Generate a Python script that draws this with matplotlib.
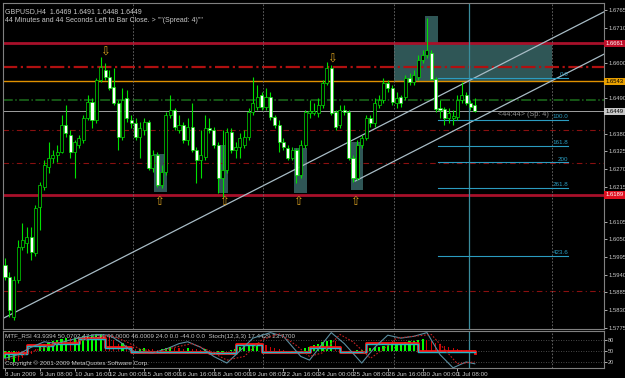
import matplotlib
matplotlib.use("Agg")
import matplotlib.pyplot as plt
import matplotlib.transforms as mtransforms
from matplotlib.patches import Rectangle
import numpy as np

plt.rcParams['font.family'] = ['Liberation Sans Narrow', 'Liberation Sans', 'DejaVu Sans']

# ---- GBPUSD H4 candles ----
opens = [1.5970, 1.5933, 1.5809, 1.5924, 1.6027, 1.6039, 1.6058, 1.6008, 1.6151, 1.6213,
         1.6276, 1.6304, 1.6313, 1.6323, 1.6407, 1.6376, 1.6323, 1.6344, 1.6360, 1.6429,
         1.6478, 1.6422, 1.6547, 1.6578, 1.6556, 1.6525, 1.6475, 1.6369, 1.6491, 1.6422,
         1.6413, 1.6369, 1.6391, 1.6416, 1.6273, 1.6313, 1.6220, 1.6260, 1.6438, 1.6453,
         1.6391, 1.6407, 1.6360, 1.6400, 1.6329, 1.6298, 1.6307, 1.6397, 1.6391, 1.6344,
         1.6242, 1.6266, 1.6385, 1.6329, 1.6338, 1.6344, 1.6369, 1.6447, 1.6463, 1.6500,
         1.6463, 1.6494, 1.6432, 1.6407, 1.6354, 1.6335, 1.6304, 1.6329, 1.6251, 1.6344,
         1.6444, 1.6444, 1.6444, 1.6469, 1.6538, 1.6584, 1.6447, 1.6407, 1.6453, 1.6447,
         1.6304, 1.6242, 1.6344, 1.6366, 1.6429, 1.6413, 1.6469, 1.6485, 1.6538, 1.6522,
         1.6475, 1.6494, 1.6494, 1.6553, 1.6541, 1.6556, 1.6609, 1.6625, 1.6631, 1.6550,
         1.6460, 1.6457, 1.6429, 1.6429, 1.6432, 1.6485, 1.6500, 1.6475, 1.6469]
highs = [1.5992, 1.5949, 1.5936, 1.6048, 1.6101, 1.6089, 1.6089, 1.6157, 1.6229, 1.6298,
         1.6354, 1.6329, 1.6344, 1.6438, 1.6469, 1.6391, 1.6360, 1.6376, 1.6438, 1.6500,
         1.6491, 1.6553, 1.6619, 1.6600, 1.6578, 1.6584, 1.6485, 1.6522, 1.6516, 1.6438,
         1.6429, 1.6416, 1.6429, 1.6422, 1.6329, 1.6323, 1.6282, 1.6447, 1.6500, 1.6460,
         1.6438, 1.6416, 1.6429, 1.6475, 1.6338, 1.6391, 1.6438, 1.6429, 1.6400, 1.6354,
         1.6391, 1.6397, 1.6397, 1.6354, 1.6382, 1.6391, 1.6460, 1.6556, 1.6531, 1.6509,
         1.6522, 1.6509, 1.6438, 1.6422, 1.6366, 1.6344, 1.6338, 1.6335, 1.6360, 1.6453,
         1.6485, 1.6475, 1.6491, 1.6547, 1.6603, 1.6594, 1.6453, 1.6469, 1.6469, 1.6453,
         1.6313, 1.6360, 1.6376, 1.6438, 1.6438, 1.6491, 1.6500, 1.6553, 1.6547, 1.6531,
         1.6509, 1.6500, 1.6562, 1.6569, 1.6578, 1.6625, 1.6640, 1.6740, 1.6640, 1.6556,
         1.6485, 1.6463, 1.6460, 1.6453, 1.6500, 1.6541, 1.6509, 1.6485, 1.6491]
lows = [1.5924, 1.5809, 1.5799, 1.5914, 1.6017, 1.6008, 1.5986, 1.5998, 1.6080, 1.6204,
        1.6257, 1.6288, 1.6291, 1.6319, 1.6369, 1.6304, 1.6242, 1.6335, 1.6351, 1.6422,
        1.6397, 1.6413, 1.6541, 1.6547, 1.6516, 1.6469, 1.6329, 1.6360, 1.6416, 1.6397,
        1.6360, 1.6304, 1.6376, 1.6266, 1.6260, 1.6213, 1.6210, 1.6251, 1.6429, 1.6391,
        1.6382, 1.6351, 1.6344, 1.6323, 1.6226, 1.6242, 1.6298, 1.6382, 1.6335, 1.6195,
        1.6182, 1.6257, 1.6319, 1.6304, 1.6304, 1.6335, 1.6360, 1.6438, 1.6453, 1.6453,
        1.6453, 1.6422, 1.6397, 1.6323, 1.6329, 1.6298, 1.6298, 1.6226, 1.6242, 1.6335,
        1.6429, 1.6438, 1.6432, 1.6460, 1.6531, 1.6438, 1.6391, 1.6397, 1.6438, 1.6298,
        1.6229, 1.6235, 1.6335, 1.6360, 1.6400, 1.6400, 1.6460, 1.6475, 1.6509, 1.6469,
        1.6460, 1.6463, 1.6485, 1.6531, 1.6531, 1.6547, 1.6600, 1.6615, 1.6547, 1.6447,
        1.6429, 1.6407, 1.6413, 1.6407, 1.6422, 1.6475, 1.6469, 1.6453, 1.6448]
closes = [1.5933, 1.5830, 1.5924, 1.6027, 1.6048, 1.6058, 1.6011, 1.6148, 1.6220, 1.6282,
          1.6304, 1.6313, 1.6323, 1.6407, 1.6382, 1.6323, 1.6354, 1.6366, 1.6429, 1.6478,
          1.6422, 1.6547, 1.6587, 1.6556, 1.6522, 1.6475, 1.6369, 1.6485, 1.6429, 1.6413,
          1.6369, 1.6397, 1.6416, 1.6273, 1.6313, 1.6220, 1.6260, 1.6438, 1.6453, 1.6400,
          1.6407, 1.6360, 1.6400, 1.6329, 1.6298, 1.6313, 1.6397, 1.6391, 1.6344, 1.6242,
          1.6266, 1.6385, 1.6329, 1.6338, 1.6366, 1.6369, 1.6447, 1.6475, 1.6494, 1.6463,
          1.6494, 1.6432, 1.6407, 1.6354, 1.6338, 1.6304, 1.6329, 1.6251, 1.6344, 1.6447,
          1.6450, 1.6450, 1.6469, 1.6538, 1.6584, 1.6444, 1.6400, 1.6453, 1.6447, 1.6304,
          1.6242, 1.6344, 1.6366, 1.6429, 1.6413, 1.6475, 1.6485, 1.6538, 1.6522, 1.6478,
          1.6491, 1.6475, 1.6553, 1.6541, 1.6562, 1.6609, 1.6625, 1.6640, 1.6550, 1.6457,
          1.6453, 1.6429, 1.6444, 1.6435, 1.6485, 1.6500, 1.6475, 1.6463, 1.6449]

time_pos = [0, 8, 16, 24, 32, 40, 48, 56, 64, 72, 80, 88, 96, 104]
time_labels = ['8 Jun 2009', '9 Jun 08:00', '10 Jun 16:00', '12 Jun 00:00', '15 Jun 08:00',
               '16 Jun 16:00', '18 Jun 00:00', '19 Jun 08:00', '22 Jun 16:00', '24 Jun 00:00',
               '25 Jun 08:00', '26 Jun 16:00', '30 Jun 00:00', '1 Jul 08:00']
# 1.6655 and 1.6545 sit under the coloured tags
price_ticks = [1.6765, 1.6710, 1.6600, 1.6490, 1.6380, 1.6325, 1.6270,
               1.6215, 1.6105, 1.6050, 1.5995, 1.5940, 1.5885, 1.5830, 1.5775]

# horizontal levels: price, colour, style, width
hlines = [(1.6661, '#a8102a', '-', 2.0), (1.6588, '#b01010', '-.', 1.6),
          (1.6543, '#e09000', '-', 1.0), (1.6486, '#1c6e1c', '-.', 1.1),
          (1.6391, '#8a1010', (0, (5, 3, 1, 3)), 0.8), (1.6288, '#8a1010', (0, (5, 3, 1, 3)), 0.8),
          (1.6189, '#a8102a', '-', 2.0), (1.5889, '#8a1010', (0, (5, 3, 1, 3)), 0.8)]
bid = 1.6449
price_tags = [(1.6661, '#c0102a', 'white'), (1.6543, '#e8a000', 'black'),
              (bid, '#c8c8c8', 'black'), (1.6189, '#e01020', 'white')]

# rectangles: idx0, idx1, price lo, price hi
boxes = [(34.3, 37.2, 1.6198, 1.6316), (49.2, 51.3, 1.6195, 1.6344),
         (66.4, 69.4, 1.6195, 1.6335), (79.5, 82.3, 1.6204, 1.6354),
         (89.4, 125.7, 1.6541, 1.6662), (96.6, 99.5, 1.6541, 1.6746)]
arrows_down = [(23.0, 1.6634), (75.2, 1.6612)]
arrows_up = [(35.4, 1.6167), (50.3, 1.6167), (67.4, 1.6167), (80.5, 1.6167)]
separators = [29.4, 59.3, 89.4, 125.7]
now_line = 106.7

# trend channel anchors
trend_a = (2, 1.5821)
trend_b = (97, 1.6478)
channel_start = (80.5, 1.6232)

# fibo expansion
fib_p0 = 1.6553
fib_p100 = 1.6422
fib_x = (99.5, 129.5)
fib_levels = [0.0, 1.0, 1.618, 2.0, 2.618, 4.236]
fib_names = ['0.0', '100.0', '161.8', '200', '261.8', '423.6']

# ---- indicator pane ----
rsi_idx = [0, 5, 11, 17, 23, 29, 47, 53, 59, 70, 77, 83, 95, 107, 108]
rsi_red = [44, 66, 72, 85, 61, 47, 44, 69, 47, 60, 46, 73, 50, 50, 44]
rsi_cyan = [42, 63, 70, 82, 58, 48, 45, 66, 48, 58, 47, 70, 48, 48, 46]
hist = [30, 25, 20, 22, 30, 38, 42, 55, 62, 68,
        72, 78, 80, 82, 86, 84, 86, 88, 90, 92,
        92, 94, 95, 93, 88, 80, 70, 72, 66, 60,
        55, 56, 57, 55, 54, 53, 55, 58, 60, 58,
        57, 56, 57, 55, 54, 53, 55, 52, 50, 48,
        47, 50, 52, 55, 60, 64, 68, 70, 72, 70,
        66, 62, 58, 55, 52, 50, 48, 47, 50, 58,
        62, 66, 70, 74, 78, 80, 76, 52, 50, 48,
        50, 52, 53, 55, 58, 60, 62, 64, 66, 68,
        70, 72, 74, 76, 78, 80, 82, 80, 76, 72,
        68, 64, 60, 57, 55, 53, 52, 51, 50]
stoch_idx = [0, 3, 6, 9, 12, 15, 18, 21, 24, 27, 29, 31, 34, 37, 40, 42, 45, 48, 51, 54,
             57, 61, 64, 68, 70, 72, 75, 78, 82, 85, 88, 91, 94, 97, 100, 103, 106, 108]
stoch_val = [30, 40, 60, 75, 70, 80, 88, 95, 93, 70, 50, 47, 45, 55, 70, 75, 60, 35, 17, 50,
             85, 100, 90, 35, 25, 55, 100, 70, 17, 60, 93, 85, 90, 100, 40, 4, 20, 15]
sig_idx = [0, 4, 8, 12, 16, 20, 24, 28, 31, 35, 39, 43, 47, 51, 55, 59, 63, 67, 70, 73,
           77, 80, 84, 87, 90, 94, 98, 101, 104, 108]
sig_val = [25, 38, 55, 70, 75, 85, 93, 75, 55, 47, 60, 70, 50, 25, 35, 80, 97, 65, 35, 45,
           95, 75, 30, 55, 85, 90, 95, 55, 15, 20]

BG = 'black'
GRID = '#808080'
TXT = '#c8c8c8'
CANDLE = '#00e000'

fig = plt.figure(figsize=(6.25, 3.78), dpi=100, facecolor=BG)
ax = fig.add_axes([3 / 625, 1 - 329 / 378, 601 / 625, 326 / 378], facecolor=BG)
ax2 = fig.add_axes([3 / 625, 1 - 368 / 378, 601 / 625, 37 / 378], facecolor=BG)

xmin, xmax = -0.46, 137.7
ax.set_xlim(xmin, xmax)
ax.set_ylim(1.5771, 1.6787)
ax2.set_xlim(xmin, xmax)
ax2.set_ylim(3.5, 104.4)

for a in (ax, ax2):
    for s in a.spines.values():
        s.set_color(GRID)
        s.set_linewidth(0.8)

# rectangles behind everything
for x0, x1, lo, hi in boxes:
    ax.add_patch(Rectangle((x0, lo), x1 - x0, hi - lo, facecolor='#2f5656',
                           edgecolor='none', zorder=0.5))

# horizontal levels
for p, c, ls, lw in hlines:
    ax.axhline(p, color=c, linestyle=ls, linewidth=lw, zorder=1)
ax.axhline(bid, color='#a0a0a0', linewidth=0.7, zorder=1)

# period separators and current-time line
for a in (ax, ax2):
    for s in separators:
        a.axvline(s, color='#6e6e6e', linestyle=(0, (2, 2)), linewidth=0.6, zorder=1)
    a.axvline(now_line, color='#3a8c9c', linewidth=0.9, zorder=1)

# trend channel
slope = (trend_b[1] - trend_a[1]) / (trend_b[0] - trend_a[0])
ax.axline(trend_a, trend_b, color='#a8bcc6', linewidth=0.9, zorder=2)
ax.plot([channel_start[0], xmax], [channel_start[1], channel_start[1] + slope * (xmax - channel_start[0])],
        color='#a8bcc6', linewidth=0.9, zorder=2)

# fibo expansion
for lev, name in zip(fib_levels, fib_names):
    p = fib_p0 - lev * (fib_p0 - fib_p100)
    ax.plot(fib_x, [p, p], color='#2b9cc0', linewidth=0.8, zorder=2)
    ax.text(fib_x[1], p + 0.0002, name, color='#2b9cc0', fontsize=4.5,
            ha='right', va='bottom', zorder=3)

# candles
x = np.arange(len(opens))
o = np.array(opens)
c = np.array(closes)
ax.vlines(x, lows, highs, color=CANDLE, linewidth=0.8, zorder=3)
body_lo = np.minimum(o, c)
body_h = np.maximum(np.abs(c - o), 0.00008)
fills = ['black' if cc > oo else 'white' for oo, cc in zip(o, c)]
ax.bar(x, body_h, bottom=body_lo, width=0.7, color=fills, edgecolor=CANDLE,
       linewidth=0.5, zorder=4)

# fractal arrows
for xi, p in arrows_down:
    ax.text(xi, p, '\u21e9', color='#d8a020', fontsize=8.5, ha='center', va='center',
            family=['DejaVu Sans'], zorder=5)
for xi, p in arrows_up:
    ax.text(xi, p, '\u21e7', color='#d8a020', fontsize=8.5, ha='center', va='center',
            family=['DejaVu Sans'], zorder=5)

# price axis
ax.set_xticks([])
ax.yaxis.tick_right()
ax.set_yticks(price_ticks)
ax.set_yticklabels(['%.4f' % p for p in price_ticks])
ax.tick_params(axis='y', colors=TXT, labelsize=4.2, length=2, pad=1, width=0.6)
tr = mtransforms.blended_transform_factory(ax.transAxes, ax.transData)
for p, bg, fg in price_tags:
    ax.text(1.0025, p, '%.4f' % p, transform=tr, color=fg, fontsize=4.2, ha='left', va='center',
            bbox=dict(boxstyle='square,pad=0.2', facecolor=bg, edgecolor='none'), zorder=6)

# header texts
ax.text(0.004, 0.985, 'GBPUSD,H4  1.6469 1.6491 1.6448 1.6449', transform=ax.transAxes,
        color=TXT, fontsize=5, ha='left', va='top')
ax.text(0.004, 0.957, '44 Minutes and 44 Seconds Left to Bar Close. > ""(Spread: 4)""',
        transform=ax.transAxes, color=TXT, fontsize=5, ha='left', va='top')
ax.text(113.3, 1.6438, '<44:44> (Sp: 4)', color='#8c8c8c', fontsize=5.2, ha='left', va='center', zorder=6)

# ---- indicator ----
for lev in (80, 50, 20):
    ax2.axhline(lev, color='#606060', linestyle=(0, (1, 2)), linewidth=0.6, zorder=1)
hv = np.array(hist, dtype=float)
prev = np.concatenate([[hv[0]], hv[:-1]])
hcol = ['#00ff00' if abs(v - 50) >= abs(q - 50) else '#d00000' for v, q in zip(hv, prev)]
hw = [0.5 if col == '#00ff00' else 0.25 for col in hcol]
ax2.bar(x, hv - 50, bottom=50, width=hw, color=hcol, zorder=2)
ax2.plot(rsi_idx, rsi_red, drawstyle='steps-post', color='#ff1010', linewidth=2.0, zorder=3)
ax2.plot(rsi_idx, rsi_cyan, drawstyle='steps-post', color='#20b8c8', linewidth=1.0, zorder=4)
ax2.plot(stoch_idx, stoch_val, color='#5a8ea0', linewidth=0.8, zorder=5)
ax2.plot(sig_idx, sig_val, color='#c02020', linestyle=(0, (1.5, 1.5)), linewidth=0.8, zorder=5)

ax2.text(0.004, 0.93, 'MTF_RSI 43.9394 50.0702 47.5254 46.0000 46.0009 24.0 0.0 -44.0 0.0  '
         'Stoch(12,3,3) 17.4429 23.7700', transform=ax2.transAxes, color=TXT,
         fontsize=4.5, ha='left', va='top')
ax2.text(0.004, 0.06, 'Copyright \u00a9 2001-2009 MetaQuotes Software Corp.', transform=ax2.transAxes,
         color=TXT, fontsize=4.5, ha='left', va='bottom')

ax2.yaxis.tick_right()
ax2.set_yticks([80, 50, 20])
ax2.set_yticklabels(['80', '50', '20'])
ax2.tick_params(axis='y', colors=TXT, labelsize=4, length=2, pad=1, width=0.6)
ax2.set_xticks(time_pos)
ax2.set_xticklabels(time_labels, ha='left')
ax2.tick_params(axis='x', colors=TXT, labelsize=4.5, length=2, pad=1, width=0.6)

fig.savefig('out.png', dpi=100, facecolor=BG)
